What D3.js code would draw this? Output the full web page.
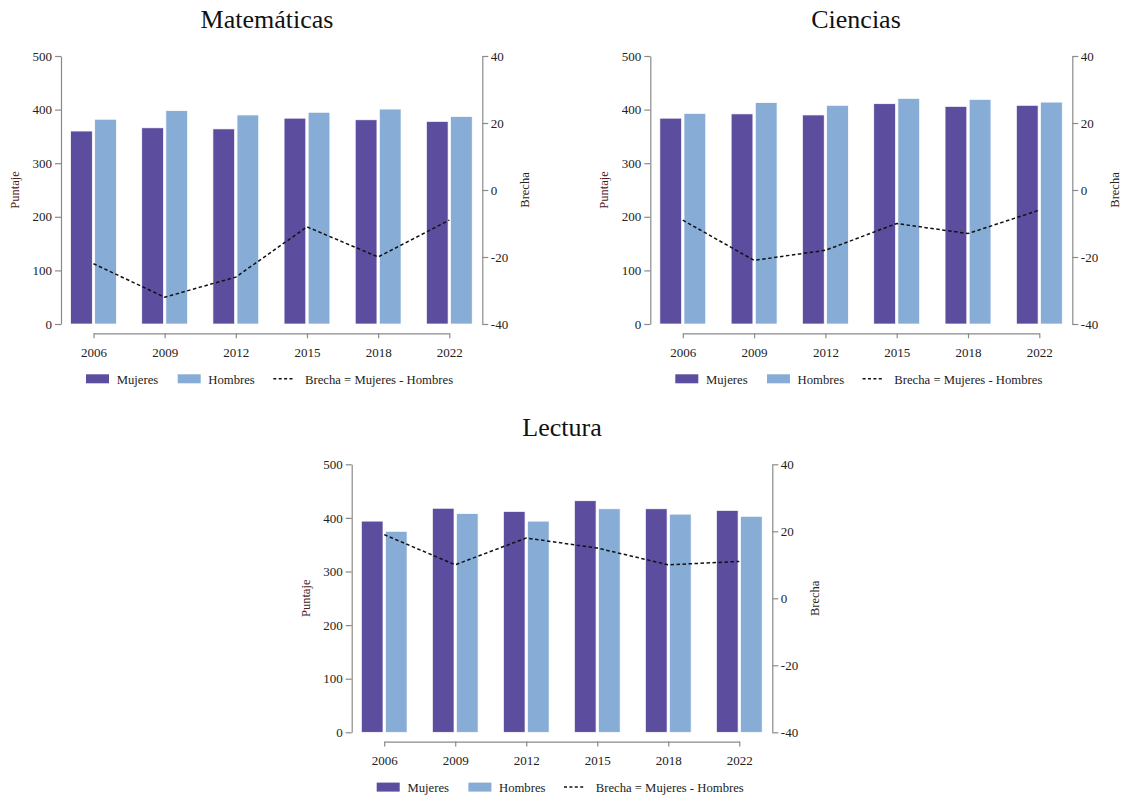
<!DOCTYPE html>
<html>
<head>
<meta charset="utf-8">
<script src="https://cdn.jsdelivr.net/npm/d3@7"></script>
<style>
  html, body { margin: 0; padding: 0; background: #fff; }
  svg { display: block; font-family: "Liberation Serif", "Times New Roman", serif; }
</style>
</head>
<body>
<svg id="chart" width="1123" height="802"></svg>
<script>
// ---- Data ----
const years = ["2006", "2009", "2012", "2015", "2018", "2022"];

const matMujeres = [360, 366, 364, 384, 381, 378];
const matHombres = [382, 398, 390, 395, 401, 387];
const matBrecha  = [-22, -32, -26, -11, -20, -9];

const cienMujeres = [384, 392, 390, 411, 406, 408];
const cienHombres = [393, 413, 408, 421, 419, 414];
const cienBrecha  = [-9, -21, -18, -10, -13, -6];

const lecMujeres = [394, 418, 412, 432, 417, 414];
const lecHombres = [375, 408, 394, 417, 407, 403];
const lecBrecha  = [19, 10, 18, 15, 10, 11];

const puntajeTicks = [0, 100, 200, 300, 400, 500];
const brechaTicks  = [-40, -20, 0, 20, 40];

const seriesNames = ["Mujeres", "Hombres", "Brecha = Mujeres - Hombres"];
const colMujeres = "#5C4D9F";
const colHombres = "#87ADD7";

// ---- Layout ----
const panels = [
  { title: "Matemáticas", m: matMujeres, h: matHombres, b: matBrecha, axL: 61, axR: 482.3, yTop: 56, yBot: 324, titleX: 267, titleY: 28 },
  { title: "Ciencias",    m: cienMujeres, h: cienHombres, b: cienBrecha, axL: 650.3, axR: 1072.3, yTop: 56, yBot: 324, titleX: 856, titleY: 28 },
  { title: "Lectura",     m: lecMujeres, h: lecHombres, b: lecBrecha, axL: 351.7, axR: 772.3, yTop: 464.3, yBot: 732.3, titleX: 562, titleY: 436 }
];

const svg = d3.select("#chart");

panels.forEach(p => {
  const g = svg.append("g");

  const x = d3.scalePoint().domain(years).range([p.axL + 32.5, p.axR - 33]);
  const y = d3.scaleLinear().domain([0, 500]).range([p.yBot, p.yTop]);
  const y2 = d3.scaleLinear().domain([-40, 40]).range([p.yBot, p.yTop]);
  const step = x.step();
  const bw = step * 0.305;
  const gap = 1.2;

  // title
  g.append("text")
    .attr("x", p.titleX).attr("y", p.titleY)
    .attr("text-anchor", "middle")
    .attr("font-size", 26)
    .attr("fill", "#111")
    .text(p.title);

  // bars
  g.selectAll(".bm").data(years).enter().append("rect")
    .attr("x", d => x(d) - gap - bw)
    .attr("y", (d, i) => y(p.m[i]))
    .attr("width", bw)
    .attr("height", (d, i) => y(0) - y(p.m[i]))
    .attr("fill", colMujeres)
    .attr("stroke", "#fff").attr("stroke-width", 0.7);

  g.selectAll(".bh").data(years).enter().append("rect")
    .attr("x", d => x(d) + gap)
    .attr("y", (d, i) => y(p.h[i]))
    .attr("width", bw)
    .attr("height", (d, i) => y(0) - y(p.h[i]))
    .attr("fill", colHombres)
    .attr("stroke", "#fff").attr("stroke-width", 0.7);

  // gap line
  const line = d3.line()
    .x((d, i) => x(years[i]))
    .y(d => y2(d));
  g.append("path")
    .datum(p.b)
    .attr("d", line)
    .attr("fill", "none")
    .attr("stroke", "#111")
    .attr("stroke-width", 1.5)
    .attr("stroke-dasharray", "3.5,2.5");

  // axes
  const styleAxis = sel => {
    sel.selectAll("path").attr("stroke", "#8a8a8a").attr("stroke-width", 1.2);
    sel.selectAll("line").attr("stroke", "#8a8a8a").attr("stroke-width", 1.2);
    sel.selectAll("text").attr("fill", "#222").attr("font-size", 13)
      .attr("font-family", "Liberation Serif, Times New Roman, serif");
  };

  g.append("g")
    .attr("transform", `translate(${p.axL},0)`)
    .call(d3.axisLeft(y).tickValues(puntajeTicks).tickSize(6).tickSizeOuter(0).tickPadding(3))
    .call(styleAxis);

  g.append("g")
    .attr("transform", `translate(${p.axR},0)`)
    .call(d3.axisRight(y2).tickValues(brechaTicks).tickSize(6).tickSizeOuter(0).tickPadding(2.5).tickFormat(d3.format("d")))
    .call(styleAxis)
    .selectAll("text").text(d => String(d));

  g.append("g")
    .attr("transform", `translate(0,${p.yBot + 9.3})`)
    .call(d3.axisBottom(x).tickSize(5).tickSizeOuter(0).tickPadding(9))
    .call(styleAxis);

  // axis titles
  const midY = (p.yTop + p.yBot) / 2;
  g.append("text")
    .attr("transform", `translate(${p.axL - 42},${midY}) rotate(-90)`)
    .attr("text-anchor", "middle")
    .attr("font-size", 12.5)
    .attr("fill", "#4d1b1b")
    .text("Puntaje");
  g.append("text")
    .attr("transform", `translate(${p.axR + 47},${midY}) rotate(-90)`)
    .attr("text-anchor", "middle")
    .attr("font-size", 12.5)
    .attr("fill", "#222")
    .text("Brecha");

  // legend
  const ly = p.yBot + 50.3;
  const lg = g.append("g").attr("transform", `translate(${p.axL},${ly})`);
  lg.append("rect").attr("x", 25).attr("y", 0).attr("width", 23).attr("height", 9).attr("fill", colMujeres);
  lg.append("text").attr("x", 55.7).attr("y", 9.3).attr("font-size", 12.7).attr("fill", "#222").text(seriesNames[0]);
  lg.append("rect").attr("x", 116.7).attr("y", 0).attr("width", 23).attr("height", 9).attr("fill", colHombres);
  lg.append("text").attr("x", 147.3).attr("y", 9.3).attr("font-size", 12.7).attr("fill", "#222").text(seriesNames[1]);
  lg.append("line").attr("x1", 212.3).attr("x2", 232.3).attr("y1", 4.5).attr("y2", 4.5)
    .attr("stroke", "#111").attr("stroke-width", 1.5).attr("stroke-dasharray", "3,2.4");
  lg.append("text").attr("x", 244).attr("y", 9.3).attr("font-size", 12.7).attr("fill", "#222").text(seriesNames[2]);
});
</script>
</body>
</html>
